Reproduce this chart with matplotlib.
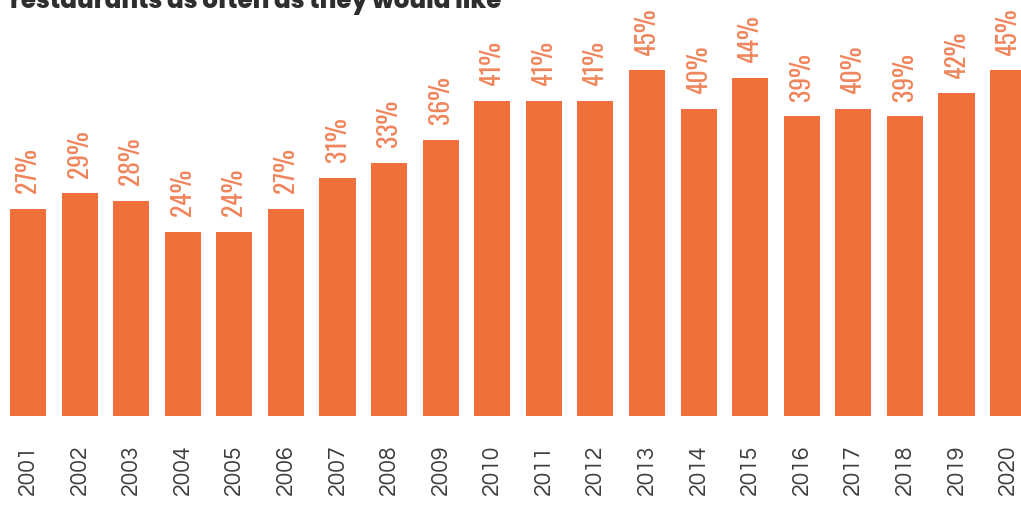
import matplotlib
matplotlib.use("Agg")
import matplotlib.pyplot as plt

years = ["2001", "2002", "2003", "2004", "2005", "2006", "2007", "2008", "2009", "2010",
         "2011", "2012", "2013", "2014", "2015", "2016", "2017", "2018", "2019", "2020"]
shares = [27, 29, 28, 24, 24, 27, 31, 33, 36, 41, 41, 41, 45, 40, 44, 39, 40, 39, 42, 45]
title = "restaurants as often as they would like"

bar_color = "#f0703c"
label_color = "#f0855c"
year_color = "#3d3d3d"

fig = plt.figure(figsize=(10.21, 5.06), dpi=100)
ax = fig.add_axes([0.0, 1 - 417 / 506, 1.0, 417 / 506])

x = list(range(len(years)))
ax.bar(x, shares, width=0.70, color=bar_color, linewidth=0)

ax.set_xlim(-0.543, 19.25)
ax.set_ylim(0, 54.3)

for xi, v in zip(x, shares):
    ax.annotate(f"{v}%", (xi, v), xytext=(0, 12), textcoords="offset points",
                rotation=90, ha="center", va="bottom", color=label_color,
                fontsize=18.5, fontweight="light", family=["Oswald", "DejaVu Sans"])

ax.set_xticks(x)
ax.set_xticklabels(years, rotation=90, color=year_color, fontsize=16.5,
                   family=["Questrial", "DejaVu Sans"], va="top", ha="center")
ax.tick_params(axis="x", length=0, pad=20)
ax.set_yticks([])
for s in ax.spines.values():
    s.set_visible(False)

fig.text(10 / 1021, 1 - 8 / 506, title, ha="left", va="baseline",
         fontsize=17.6, fontweight="heavy", color="#2e2e2e", family=["Poppins", "DejaVu Sans"])

fig.savefig("out.png", dpi=100)
